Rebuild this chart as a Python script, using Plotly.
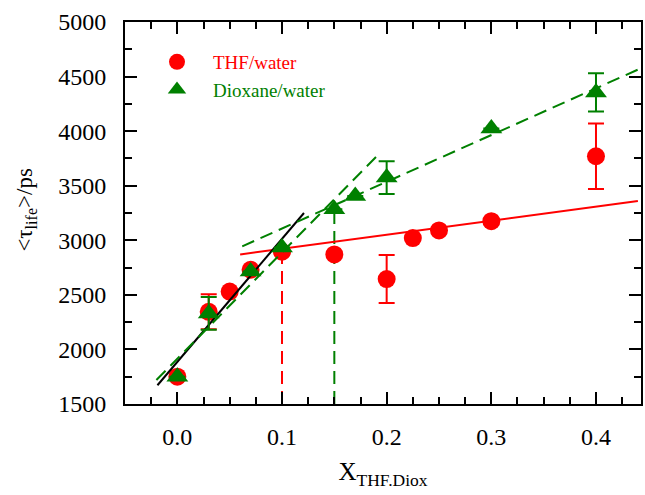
import plotly.graph_objects as go

# THF/water data
thf_x = [0.0, 0.03, 0.05, 0.07, 0.10, 0.15, 0.20, 0.225, 0.25, 0.30, 0.40]
thf_y = [1750, 2345, 2530, 2730, 2895, 2870, 2645, 3020, 3090, 3175, 3770]
thf_err = [0, 160, 0, 0, 0, 0, 220, 0, 0, 0, 300]

# Dioxane/water data
dio_x = [0.0, 0.03, 0.07, 0.10, 0.15, 0.17, 0.20, 0.30, 0.40]
dio_y = [1750, 2330, 2715, 2935, 3285, 3405, 3575, 4025, 4355]
dio_err = [0, 150, 0, 0, 0, 0, 150, 0, 175]

# fit lines (endpoints)
red_fit_x = [0.06, 0.44]
red_fit_y = [2870, 3360]
black_fit_x = [-0.019, 0.121]
black_fit_y = [1672, 3250]
green_fit1_x = [-0.02, 0.193]
green_fit1_y = [1720, 3795]
green_fit2_x = [0.062, 0.445]
green_fit2_y = [2945, 4585]
red_vline_x = [0.10, 0.10]
red_vline_y = [1500, 2880]
green_vline_x = [0.15, 0.15]
green_vline_y = [1500, 3270]

RED = "#ff0000"
GREEN = "#008000"
FONT = "Liberation Serif"
DASH = "13px,7px"

fig = go.Figure()

fig.add_trace(go.Scatter(x=red_vline_x, y=red_vline_y, mode="lines",
                         line=dict(color=RED, width=2, dash=DASH), showlegend=False))
fig.add_trace(go.Scatter(x=green_vline_x, y=green_vline_y, mode="lines",
                         line=dict(color=GREEN, width=2, dash=DASH), showlegend=False))
fig.add_trace(go.Scatter(x=red_fit_x, y=red_fit_y, mode="lines",
                         line=dict(color=RED, width=2), showlegend=False))

fig.add_trace(go.Scatter(
    x=thf_x, y=thf_y, mode="markers", name="<span style='color:#ff0000'>THF/water</span>",
    marker=dict(symbol="circle", size=18, color=RED),
    error_y=dict(type="data", array=thf_err, visible=True, color=RED, thickness=2, width=8),
))

fig.add_trace(go.Scatter(x=black_fit_x, y=black_fit_y, mode="lines",
                         line=dict(color="black", width=2), showlegend=False))
fig.add_trace(go.Scatter(x=green_fit1_x, y=green_fit1_y, mode="lines",
                         line=dict(color=GREEN, width=2, dash=DASH), showlegend=False))
fig.add_trace(go.Scatter(x=green_fit2_x, y=green_fit2_y, mode="lines",
                         line=dict(color=GREEN, width=2, dash=DASH), showlegend=False))

fig.add_trace(go.Scatter(
    x=dio_x, y=dio_y, mode="markers", name="<span style='color:#008000'>Dioxane/water</span>",
    marker=dict(symbol="triangle-up", size=19, color=GREEN),
    error_y=dict(type="data", array=dio_err, visible=True, color=GREEN, thickness=2, width=8),
))

axis_common = dict(
    showgrid=False, zeroline=False, showline=True, linecolor="black", linewidth=2,
    mirror="ticks", ticks="inside", ticklen=12, tickwidth=2, tickcolor="black",
    tickfont=dict(family=FONT, size=24, color="black"),
)

fig.update_xaxes(
    **axis_common, range=[-0.05, 0.443], tick0=0, dtick=0.1, tickformat=".1f",
    minor=dict(ticks="inside", ticklen=7, tickwidth=2, dtick=0.025, tick0=0, tickcolor="black"),
    ticklabelstandoff=10,
    title=dict(text="X<sub>THF.Diox</sub>", font=dict(family=FONT, size=25, color="black"), standoff=14),
)
fig.update_yaxes(
    **axis_common, range=[1500, 5000], tick0=1500, dtick=500,
    minor=dict(ticks="inside", ticklen=7, tickwidth=2, dtick=250, tick0=1500, tickcolor="black"),
    ticklabelstandoff=12,
)

fig.add_annotation(
    text="&lt;τ<sub>life</sub>&gt;/ps", textangle=-90,
    xref="paper", yref="paper", x=-0.191, y=0.51, xanchor="center", yanchor="middle",
    showarrow=False, font=dict(family=FONT, size=23, color="black"),
)

fig.update_layout(
    width=645, height=495,
    margin=dict(l=125, r=2, t=22, b=91),
    plot_bgcolor="white", paper_bgcolor="white",
    legend=dict(x=0.031, y=0.945, xanchor="left", yanchor="top", bgcolor="rgba(0,0,0,0)",
                font=dict(family=FONT, size=19), itemwidth=62, tracegroupgap=2),
)

fig.write_html("out.html")
